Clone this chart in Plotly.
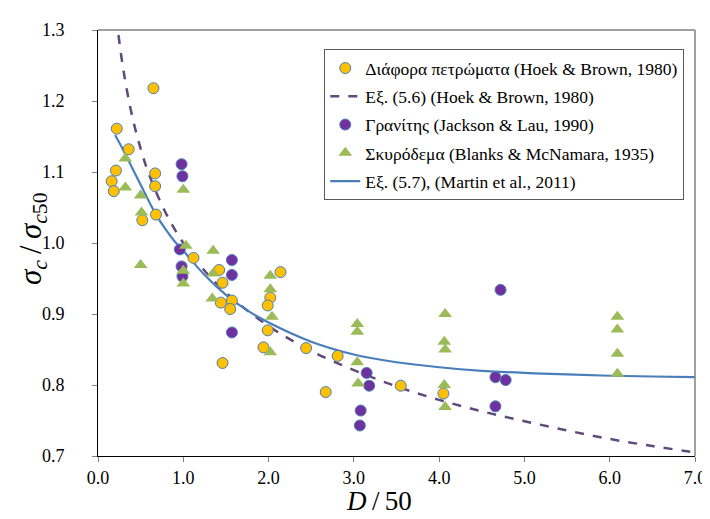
import plotly.graph_objects as go

# Hoek & Brown (1980) - various rocks
hb_x = [0.22, 0.21, 0.16, 0.185, 0.36, 0.65, 0.67, 0.67, 0.68, 0.52, 1.12, 1.42, 1.46, 1.57,
        1.44, 1.55, 2.14, 2.02, 1.99, 1.99, 1.94, 2.44, 1.46, 2.67, 2.81, 3.55, 4.05]
hb_y = [1.161, 1.102, 1.087, 1.073, 1.132, 1.218, 1.098, 1.080, 1.040, 1.032, 0.979, 0.962, 0.944, 0.919,
        0.916, 0.907, 0.959, 0.923, 0.912, 0.877, 0.853, 0.852, 0.831, 0.790, 0.841, 0.799, 0.788]

# Jackson & Lau (1990) - granite
jl_x = [0.98, 0.99, 0.96, 0.98, 0.99, 1.57, 1.57, 1.57, 4.72, 3.15, 3.18, 3.08, 3.07, 4.66, 4.78, 4.66]
jl_y = [1.111, 1.094, 0.991, 0.967, 0.953, 0.976, 0.955, 0.874, 0.934, 0.817, 0.799, 0.764, 0.743, 0.811, 0.807, 0.770]

# Blanks & McNamara (1935) - concrete
bm_x = [0.32, 0.32, 0.50, 0.51, 0.50, 1.0, 1.03, 1.35, 1.0, 1.0, 1.35, 1.34, 2.02, 2.02, 2.04, 2.02,
        3.04, 3.04, 3.04, 3.05, 4.07, 4.06, 4.07, 4.06, 4.07, 6.09, 6.09, 6.09, 6.09]
bm_y = [1.119, 1.078, 1.067, 1.043, 0.969, 1.075, 0.996, 0.989, 0.961, 0.943, 0.957, 0.922, 0.954, 0.935, 0.896, 0.846,
        0.886, 0.875, 0.832, 0.802, 0.900, 0.861, 0.850, 0.800, 0.769, 0.896, 0.878, 0.844, 0.816]

# Eq. (5.6) curve
eq56_x = [0.24, 0.3, 0.4, 0.5, 0.6, 0.8, 1.0, 1.25, 1.5, 2.0, 2.5, 3.0, 3.5, 4.0, 4.5, 5.0, 5.5, 6.0, 6.5, 7.0]
eq56_y = [1.293, 1.242, 1.179, 1.133, 1.096, 1.041, 1.000, 0.961, 0.930, 0.883, 0.848, 0.821, 0.798, 0.779,
          0.763, 0.749, 0.736, 0.724, 0.714, 0.705]

# Eq. (5.7) curve
eq57_x = [0.2, 0.3, 0.4, 0.5, 0.6, 0.7, 0.8, 0.9, 1.0, 1.25, 1.5, 1.75, 2.0, 2.5, 3.0, 3.5, 4.0, 4.5,
          5.0, 5.5, 6.0, 6.5, 7.0]
eq57_y = [1.152, 1.130, 1.106, 1.082, 1.058, 1.036, 1.018, 1.002, 0.989, 0.955, 0.927, 0.905, 0.888,
          0.861, 0.843, 0.832, 0.825, 0.820, 0.817, 0.815, 0.813, 0.812, 0.811]

x_ticks = [0, 1, 2, 3, 4, 5, 6, 7]
x_tick_labels = ["0.0", "1.0", "2.0", "3.0", "4.0", "5.0", "6.0", "7.0"]
y_ticks = [0.7, 0.8, 0.9, 1.0, 1.1, 1.2, 1.3]
y_tick_labels = ["0.7", "0.8", "0.9", "1.0", "1.1", "1.2", "1.3"]

names = ["Διάφορα πετρώματα (Hoek & Brown, 1980)",
         "Εξ. (5.6) (Hoek & Brown, 1980)",
         "Γρανίτης (Jackson & Lau, 1990)",
         "Σκυρόδεμα (Blanks & McNamara, 1935)",
         "Εξ. (5.7), (Martin et al., 2011)"]
x_title = "<i>D</i>\u2009/\u200950"
y_title = "<i>σ<sub>c</sub></i>\u2009/\u2009<i>σ<sub>c</sub></i><sub>50</sub>"

fig = go.Figure()
fig.add_trace(go.Scatter(x=eq56_x, y=eq56_y, mode="lines", name=names[1], legendrank=2, legendgroup="g2",
                         line=dict(color="#604A7B", width=2.5, dash="dash", shape="spline")))
fig.add_trace(go.Scatter(x=eq57_x, y=eq57_y, mode="lines", name=names[4], legendrank=5, legendgroup="g5",
                         line=dict(color="#4A7EBB", width=2.2, shape="spline")))
fig.add_trace(go.Scatter(x=hb_x, y=hb_y, mode="markers", name=names[0], legendrank=1, legendgroup="g1",
                         marker=dict(symbol="circle", size=11, color="#FFC000",
                                     line=dict(color="#4A7EBB", width=1))))
fig.add_trace(go.Scatter(x=jl_x, y=jl_y, mode="markers", name=names[2], legendrank=3, legendgroup="g3",
                         marker=dict(symbol="circle", size=11, color="#7030A0",
                                     line=dict(color="#4A7EBB", width=1))))
fig.add_trace(go.Scatter(x=bm_x, y=bm_y, mode="markers", name=names[3], legendrank=4, legendgroup="g4",
                         marker=dict(symbol="triangle-up", size=12, color="#9BBB59",
                                     line=dict(color="#9BBB59", width=0))))

font_family = "'Liberation Serif', 'Times New Roman', Times, serif"
fig.update_layout(
    width=710, height=519,
    margin=dict(l=90, r=14, t=17, b=71),
    paper_bgcolor="white", plot_bgcolor="white",
    font=dict(family=font_family, size=17, color="black"),
    showlegend=True,
    legend=dict(x=0.379, y=0.955, xanchor="left", yanchor="top",
                bgcolor="white", bordercolor="#595959", borderwidth=1,
                font=dict(family=font_family, size=17.5, color="black"),
                traceorder="grouped", tracegroupgap=2.5),
    xaxis=dict(range=[0, 7], tickvals=x_ticks, ticktext=x_tick_labels,
               showgrid=False, zeroline=False, showline=True, linecolor="black", linewidth=1,
               ticks="outside", ticklen=5, tickcolor="#808080",
               tickfont=dict(family=font_family, size=18)),
    yaxis=dict(range=[0.7, 1.3], tickvals=y_ticks, ticktext=y_tick_labels,
               showgrid=False, zeroline=False, showline=True, linecolor="black", linewidth=1,
               ticks="outside", ticklen=5, tickcolor="#808080", ticklabelstandoff=24,
               tickfont=dict(family=font_family, size=18)),
    annotations=[
        dict(text=x_title, xref="paper", yref="paper", x=0.47, y=-0.105,
             xanchor="center", yanchor="middle", showarrow=False,
             font=dict(family=font_family, size=27)),
        dict(text=y_title, xref="paper", yref="paper", x=-0.11, y=0.51,
             xanchor="center", yanchor="middle", showarrow=False, textangle=-90,
             font=dict(family=font_family, size=31)),
    ],
)
fig.add_shape(type="line", xref="x domain", yref="y domain", x0=0, x1=1, y0=1, y1=1,
              line=dict(color="#808080", width=1.5))
fig.add_shape(type="line", xref="x domain", yref="y domain", x0=1, x1=1, y0=0, y1=1,
              line=dict(color="#808080", width=1.5))

fig.write_html("out.html")
